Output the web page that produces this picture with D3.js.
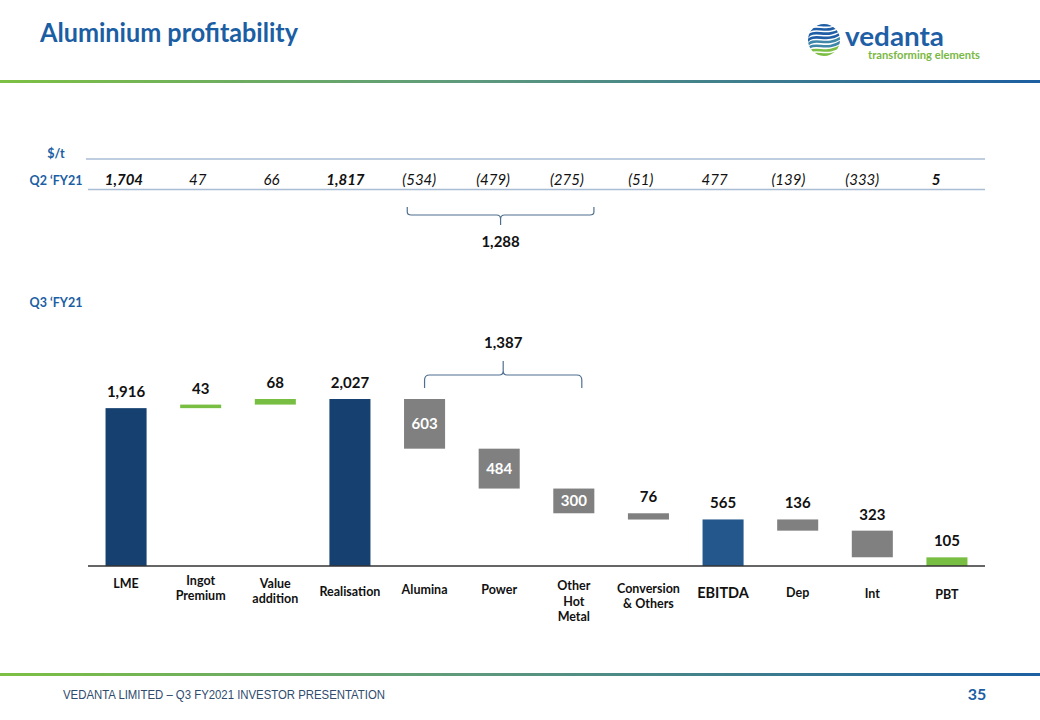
<!DOCTYPE html>
<html>
<head>
<meta charset="utf-8">
<script src="https://cdn.jsdelivr.net/npm/d3@7"></script>
<style>
  html, body { margin: 0; padding: 0; background: #fff; }
  svg { display: block; font-family: Lato, "Open Sans", sans-serif; }
</style>
</head>
<body>
<svg id="chart" width="1040" height="720"></svg>
<script>
// ---------- data ----------
const categories = ["LME", "Ingot Premium", "Value addition", "Realisation", "Alumina", "Power",
  "Other Hot Metal", "Conversion & Others", "EBITDA", "Dep", "Int", "PBT"];
const categoryLines = [["LME"], ["Ingot", "Premium"], ["Value", "addition"], ["Realisation"], ["Alumina"],
  ["Power"], ["Other", "Hot", "Metal"], ["Conversion", "& Others"], ["EBITDA"], ["Dep"], ["Int"], ["PBT"]];
const q3Values = [1916, 43, 68, 2027, 603, 484, 300, 76, 565, 136, 323, 105];
const stepTypes = ["total", "up", "up", "total", "down", "down", "down", "down", "total", "down", "down", "total"];
const q2Labels = ["1,704", "47", "66", "1,817", "(534)", "(479)", "(275)", "(51)", "477", "(139)", "(333)", "5"];
const q2BoldItems = ["LME", "Realisation", "PBT"];
const q2Group = { from: "Alumina", to: "Other Hot Metal", label: "1,288" };
const q3Group = { from: "Alumina", to: "Other Hot Metal", label: "1,387" };
const insideLabelItems = ["Alumina", "Power", "Other Hot Metal"];

// ---------- setup ----------
const svg = d3.select("#chart");
const W = 1040;
const blue = "#1b5ea3";

// header / footer
const defs = svg.append("defs");
const grad = defs.append("linearGradient").attr("id", "bar-grad").attr("x1", "0").attr("x2", "1");
grad.append("stop").attr("offset", "0").attr("stop-color", "#7dc043");
grad.append("stop").attr("offset", "0.45").attr("stop-color", "#5e9a7c");
grad.append("stop").attr("offset", "1").attr("stop-color", "#1d5fa1");
svg.append("rect").attr("x", 0).attr("y", 80).attr("width", W).attr("height", 3).attr("fill", "url(#bar-grad)");
svg.append("rect").attr("x", 0).attr("y", 673).attr("width", W).attr("height", 3).attr("fill", "url(#bar-grad)");

svg.append("text").attr("x", 40).attr("y", 42).attr("fill", blue)
  .attr("font-size", 26).attr("font-weight", 700)
  .attr("textLength", 258).attr("lengthAdjust", "spacingAndGlyphs")
  .text("Aluminium profitability");

svg.append("text").attr("x", 63).attr("y", 699).attr("fill", "#2f4b6e")
  .attr("font-family", "'Liberation Sans Narrow', 'Liberation Sans', sans-serif")
  .attr("font-size", 13).attr("textLength", 322).attr("lengthAdjust", "spacingAndGlyphs")
  .text("VEDANTA  LIMITED – Q3 FY2021  INVESTOR PRESENTATION");
svg.append("text").attr("x", 977).attr("y", 700).attr("text-anchor", "middle").attr("fill", blue)
  .attr("font-size", 16).attr("font-weight", 700).text("35");

// logo
const logo = svg.append("g");
defs.append("clipPath").attr("id", "globe").append("circle").attr("cx", 824).attr("cy", 40).attr("r", 16);
const lg = logo.append("g").attr("clip-path", "url(#globe)");
for (let i = 0; i < 9; i++) {
  const y0 = 22 + i * 4.2;
  lg.append("path")
    .attr("d", `M806,${y0 + 8} C814,${y0 - 4} 826,${y0 + 10} 842,${y0 - 2}`)
    .attr("fill", "none")
    .attr("stroke", i < 4 ? "#1f5ea6" : (i < 6 ? "#3f87a8" : "#7cbf43"))
    .attr("stroke-width", 2.6);
}
logo.append("text").attr("x", 845).attr("y", 46).attr("fill", "#1f5fa6")
  .attr("font-size", 27).attr("font-weight", 700)
  .attr("textLength", 99).attr("lengthAdjust", "spacingAndGlyphs").text("vedanta");
logo.append("text").attr("x", 868).attr("y", 59).attr("fill", "#7ab844")
  .attr("font-size", 10.5).attr("font-weight", 700)
  .attr("textLength", 112).attr("lengthAdjust", "spacingAndGlyphs").text("transforming elements");

// ---------- scales ----------
const x = d3.scaleBand().domain(categories).range([88, 985]).paddingInner(0.45).paddingOuter(0.235);
const xTable = d3.scaleBand().domain(categories).range([87, 973]).paddingInner(0).paddingOuter(0);
const y = d3.scaleLinear().domain([0, 2027]).range([566, 399]);
const cx = c => x(c) + x.bandwidth() / 2;
const tx = c => xTable(c) + xTable.bandwidth() / 2;

// ---------- Q2 table ----------
svg.append("text").attr("x", 56).attr("y", 158).attr("text-anchor", "middle").attr("fill", blue)
  .attr("font-size", 12.5).attr("font-weight", 700).text("$/t");
svg.append("line").attr("x1", 86).attr("x2", 985).attr("y1", 159).attr("y2", 159)
  .attr("stroke", "#a9bdd4").attr("stroke-width", 1.5);
svg.append("line").attr("x1", 88).attr("x2", 985).attr("y1", 189.5).attr("y2", 189.5)
  .attr("stroke", "#a9bdd4").attr("stroke-width", 1.5);
svg.append("text").attr("x", 56).attr("y", 185).attr("text-anchor", "middle").attr("fill", blue)
  .attr("font-size", 12.5).attr("font-weight", 700).text("Q2 ‘FY21");
svg.append("g").selectAll("text").data(categories).join("text")
  .attr("x", d => tx(d))
  .attr("y", 185).attr("text-anchor", "middle")
  .attr("font-size", 15).attr("font-style", "italic")
  .attr("font-weight", d => q2BoldItems.includes(d) ? 700 : 400)
  .attr("fill", "#111")
  .text((d, i) => q2Labels[i]);

// upper brace (tip down)
{
  const x1 = tx(q2Group.from) - 12, x2 = tx(q2Group.to) + 27;
  const xm = (x1 + x2) / 2;
  const p = d3.path();
  p.moveTo(x1, 207); p.lineTo(x1, 212); p.quadraticCurveTo(x1, 215, x1 + 4, 215);
  p.lineTo(xm - 4, 215); p.quadraticCurveTo(xm, 215, xm, 219); p.lineTo(xm, 225);
  p.moveTo(x2, 207); p.lineTo(x2, 212); p.quadraticCurveTo(x2, 215, x2 - 4, 215);
  p.lineTo(xm + 4, 215); p.quadraticCurveTo(xm, 215, xm, 219);
  svg.append("path").attr("d", p.toString()).attr("fill", "none").attr("stroke", "#4f6f8f").attr("stroke-width", 1.2);
  svg.append("text").attr("x", xm).attr("y", 247).attr("text-anchor", "middle")
    .attr("font-size", 15).attr("font-weight", 700).attr("fill", "#111").text(q2Group.label);
}

svg.append("text").attr("x", 56).attr("y", 307).attr("text-anchor", "middle").attr("fill", blue)
  .attr("font-size", 12.5).attr("font-weight", 700).text("Q3 ‘FY21");

// ---------- waterfall ----------
let running = 0;
const bars = categories.map((c, i) => {
  const v = q3Values[i], t = stepTypes[i];
  let lo, hi;
  if (t === "total") { lo = 0; hi = v; running = v; }
  else if (t === "up") { lo = running; hi = running + v; running = hi; }
  else { hi = running; lo = running - v; running = lo; }
  return { cat: c, value: v, type: t, lo, hi };
});
const colorOf = d => {
  if (d.cat === "PBT") return "#78be43";
  if (d.cat === "EBITDA") return "#24578c";
  if (d.type === "total") return "#15406f";
  if (d.type === "up") return "#78be43";
  return "#808080";
};

const gb = svg.append("g");
gb.selectAll("rect").data(bars).join("rect")
  .attr("x", d => x(d.cat)).attr("width", x.bandwidth())
  .attr("y", d => y(d.hi)).attr("height", d => Math.max(3.5, y(d.lo) - y(d.hi)))
  .attr("fill", colorOf);

gb.selectAll("text.val").data(bars).join("text").attr("class", "val")
  .attr("x", d => cx(d.cat))
  .attr("y", d => insideLabelItems.includes(d.cat) ? (y(d.hi) + y(d.lo)) / 2 + 5.5 : y(d.hi) - 11)
  .attr("text-anchor", "middle").attr("font-size", 15).attr("font-weight", 700)
  .attr("fill", d => insideLabelItems.includes(d.cat) ? "#fff" : "#111")
  .text(d => d3.format(",")(d.value));

// baseline axis
const axis = svg.append("g").attr("transform", `translate(0,${y(0)})`)
  .call(d3.axisBottom(x).tickSize(0).tickFormat(""));
axis.select(".domain").attr("stroke", "#333").attr("stroke-width", 1.3)
  .attr("d", "M0,0H" + (985 - 88)).attr("transform", "translate(88,0)");

// category labels (vertical centre of each label block, px)
const labelCentre = { "LME": 583, "Ingot Premium": 588, "Value addition": 591, "Realisation": 591,
  "Alumina": 589, "Power": 589, "Other Hot Metal": 601, "Conversion & Others": 596,
  "EBITDA": 593, "Dep": 592, "Int": 593, "PBT": 594 };
const cl = svg.append("g");
categories.forEach((c, i) => {
  const lines = categoryLines[i];
  const big = c === "EBITDA";
  const lh = 15.5;
  const t = cl.append("text").attr("x", cx(c))
    .attr("text-anchor", "middle").attr("font-size", big ? 14.5 : 12.5).attr("font-weight", 700)
    .attr("fill", "#111");
  lines.forEach((ln, j) => {
    t.append("tspan").attr("x", cx(c))
      .attr("y", labelCentre[c] + (j - (lines.length - 1) / 2) * lh + (big ? 5 : 4.5)).text(ln);
  });
});

// lower brace (tip up)
{
  const x1 = cx(q3Group.from), x2 = cx(q3Group.to) + 8;
  const xm = (x1 + x2) / 2;
  const p = d3.path();
  p.moveTo(x1, 388); p.lineTo(x1, 380); p.quadraticCurveTo(x1, 375, x1 + 5, 375);
  p.lineTo(xm - 4, 375); p.quadraticCurveTo(xm, 375, xm, 371); p.lineTo(xm, 361);
  p.moveTo(x2, 388); p.lineTo(x2, 380); p.quadraticCurveTo(x2, 375, x2 - 5, 375);
  p.lineTo(xm + 4, 375); p.quadraticCurveTo(xm, 375, xm, 371);
  svg.append("path").attr("d", p.toString()).attr("fill", "none").attr("stroke", "#4f6f8f").attr("stroke-width", 1.2);
  svg.append("text").attr("x", xm).attr("y", 348).attr("text-anchor", "middle")
    .attr("font-size", 15).attr("font-weight", 700).attr("fill", "#111").text(q3Group.label);
}
</script>
</body>
</html>
